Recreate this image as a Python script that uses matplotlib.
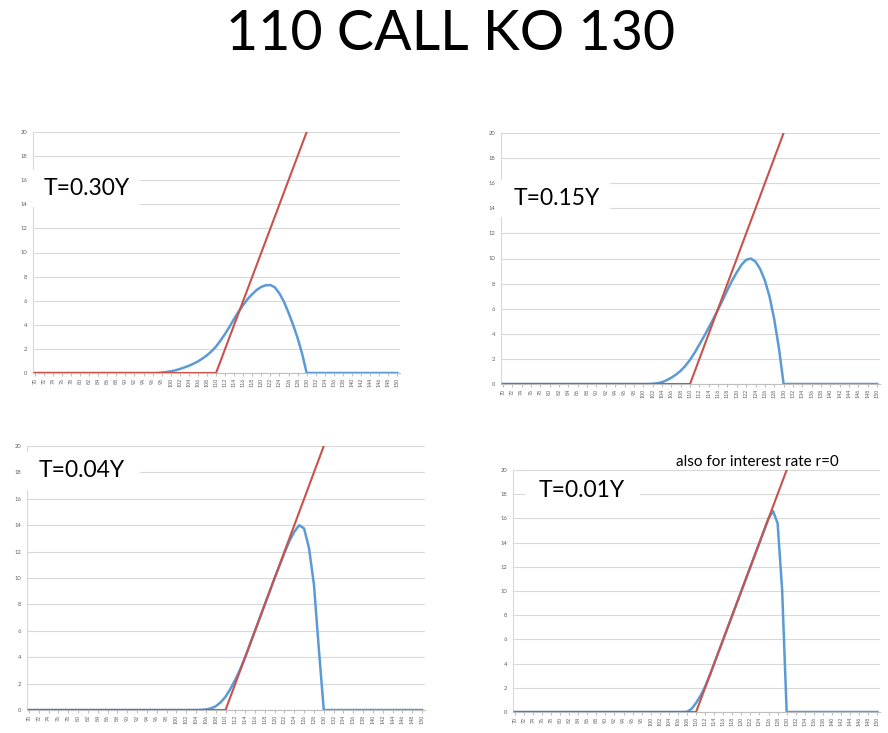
import matplotlib
matplotlib.use("Agg")
import matplotlib.pyplot as plt

plt.rcParams['font.family'] = ['Lato', 'DejaVu Sans']

# underlying price (category axis)
spot = [70, 71, 72, 73, 74, 75, 76, 77, 78, 79, 80, 81, 82, 83, 84, 85, 86, 87, 88, 89,
        90, 91, 92, 93, 94, 95, 96, 97, 98, 99, 100, 101, 102, 103, 104, 105, 106, 107, 108, 109,
        110, 111, 112, 113, 114, 115, 116, 117, 118, 119, 120, 121, 122, 123, 124, 125, 126, 127, 128, 129,
        130, 131, 132, 133, 134, 135, 136, 137, 138, 139, 140, 141, 142, 143, 144, 145, 146, 147, 148, 149,
        150]
tick_labels = ['70', '72', '74', '76', '78', '80', '82', '84', '86', '88', '90', '92', '94', '96',
               '98', '100', '102', '104', '106', '108', '110', '112', '114', '116', '118', '120',
               '122', '124', '126', '128', '130', '132', '134', '136', '138', '140', '142', '144',
               '146', '148', '150']

# payoff of 110 call at expiry (red)
payoff = [0, 0, 0, 0, 0, 0, 0, 0, 0, 0, 0, 0, 0, 0, 0, 0, 0, 0, 0, 0,
          0, 0, 0, 0, 0, 0, 0, 0, 0, 0, 0, 0, 0, 0, 0, 0, 0, 0, 0, 0,
          0, 1, 2, 3, 4, 5, 6, 7, 8, 9, 10, 11, 12, 13, 14, 15, 16, 17, 18, 19,
          20, 21, 22, 23, 24, 25, 26, 27, 28, 29, 30, 31, 32, 33, 34, 35, 36, 37, 38, 39,
          40]

# knock-out call values (blue)
ko_030 = [0, 0, 0, 0, 0, 0, 0, 0, 0, 0, 0, 0, 0, 0, 0, 0, 0, 0, 0, 0,
          0, 0, 0, 0, 0, 0, 0, 0, 0.04, 0.08, 0.14, 0.22, 0.33, 0.46, 0.6, 0.77, 0.96, 1.2, 1.47, 1.8,
          2.2, 2.7, 3.25, 3.85, 4.5, 5.1, 5.65, 6.15, 6.55, 6.9, 7.15, 7.28, 7.3, 7.1, 6.6, 5.9, 5.0, 4.0, 2.9, 1.6,
          0, 0, 0, 0, 0, 0, 0, 0, 0, 0, 0, 0, 0, 0, 0, 0, 0, 0, 0, 0,
          0]
ko_015 = [0, 0, 0, 0, 0, 0, 0, 0, 0, 0, 0, 0, 0, 0, 0, 0, 0, 0, 0, 0,
          0, 0, 0, 0, 0, 0, 0, 0, 0, 0, 0, 0, 0.02, 0.06, 0.14, 0.3, 0.5, 0.75, 1.05, 1.45,
          1.93, 2.5, 3.15, 3.8, 4.5, 5.2, 5.95, 6.7, 7.5, 8.25, 8.9, 9.5, 9.9, 10.0, 9.75, 9.15, 8.25, 6.95, 5.15, 2.85,
          0, 0, 0, 0, 0, 0, 0, 0, 0, 0, 0, 0, 0, 0, 0, 0, 0, 0, 0, 0,
          0]
ko_004 = [0, 0, 0, 0, 0, 0, 0, 0, 0, 0, 0, 0, 0, 0, 0, 0, 0, 0, 0, 0,
          0, 0, 0, 0, 0, 0, 0, 0, 0, 0, 0, 0, 0, 0, 0, 0.01, 0.04, 0.12, 0.28, 0.58,
          1.0, 1.6, 2.3, 3.1, 4.0, 5.0, 6.0, 7.0, 8.0, 9.0, 10.0, 10.95, 11.9, 12.8, 13.5, 14.0, 13.75, 12.25, 9.5, 4.6,
          0, 0, 0, 0, 0, 0, 0, 0, 0, 0, 0, 0, 0, 0, 0, 0, 0, 0, 0, 0,
          0]
ko_001 = [0, 0, 0, 0, 0, 0, 0, 0, 0, 0, 0, 0, 0, 0, 0, 0, 0, 0, 0, 0,
          0, 0, 0, 0, 0, 0, 0, 0, 0, 0, 0, 0, 0, 0, 0, 0, 0, 0, 0.02, 0.25,
          0.75, 1.35, 2.1, 3.0, 4.0, 5.0, 6.0, 7.0, 8.0, 9.0, 10.0, 11.0, 12.0, 13.0, 14.0, 15.0, 16.0, 16.6, 15.6, 10.1,
          0, 0, 0, 0, 0, 0, 0, 0, 0, 0, 0, 0, 0, 0, 0, 0, 0, 0, 0, 0,
          0]

W, H = 888, 733
fig = plt.figure(figsize=(W / 100, H / 100), dpi=100)
fig.patch.set_facecolor('white')

fig.text(451 / W, 1 - 35 / H, '110 CALL KO 130', ha='center', va='center', fontsize=40, color='black')

# (left, top, right, bottom) in pixels, label text, label box
panels = [
    ((33, 132, 400, 373), 'T=0.30Y', ko_030, (30, 170, 140, 207)),
    ((501, 133, 880, 384), 'T=0.15Y', ko_015, (500, 180, 610, 217)),
    ((27, 446, 425, 710), 'T=0.04Y', ko_004, (25, 452, 140, 490)),
    ((513, 470, 880, 712), 'T=0.01Y', ko_001, (525, 471, 640, 510)),
]

blue = '#5B9BD5'
red = '#C8524C'
grid_c = '#D9D9D9'

for (l, t, r, b), label, ko, box in panels:
    ax = fig.add_axes([l / W, 1 - b / H, (r - l) / W, (b - t) / H])
    ax.plot(spot, ko, color=blue, lw=1.8, zorder=3)
    ax.plot(spot, payoff, color=red, lw=1.5, zorder=4)
    ax.set_xlim(69.6, 150.6)
    ax.set_ylim(0, 20)
    ax.set_yticks(range(0, 21, 2))
    ax.set_xticks(range(70, 151, 2))
    ax.set_xticklabels(tick_labels, rotation=90, fontsize=3.8, color='#606060')
    ax.tick_params(axis='y', length=0, labelsize=4.2, labelcolor='#606060', pad=4)
    ax.tick_params(axis='x', length=2, color='#BFBFBF', pad=1.5)
    ax.grid(axis='y', color=grid_c, lw=0.8)
    ax.set_axisbelow(True)
    for s in ['top', 'right']:
        ax.spines[s].set_visible(False)
    ax.spines['left'].set_color(grid_c)
    ax.spines['bottom'].set_color('#BFBFBF')
    ax.spines['left'].set_linewidth(0.8)
    ax.spines['bottom'].set_linewidth(0.8)

    # white label box covering the gridlines
    bl, bt, br, bb = box
    fig.patches.append(plt.Rectangle((bl / W, 1 - bb / H), (br - bl) / W, (bb - bt) / H,
                                     transform=fig.transFigure, facecolor='white',
                                     edgecolor='none', zorder=5))
    fig.text((bl + 14) / W, 1 - ((bt + bb) / 2) / H, label, ha='left', va='center',
             fontsize=16.5, color='black', zorder=6)

fig.text(757 / W, 1 - 462 / H, 'also for interest rate r=0', ha='center', va='center',
         fontsize=11, color='black', zorder=6)

fig.savefig('out.png', dpi=100)
